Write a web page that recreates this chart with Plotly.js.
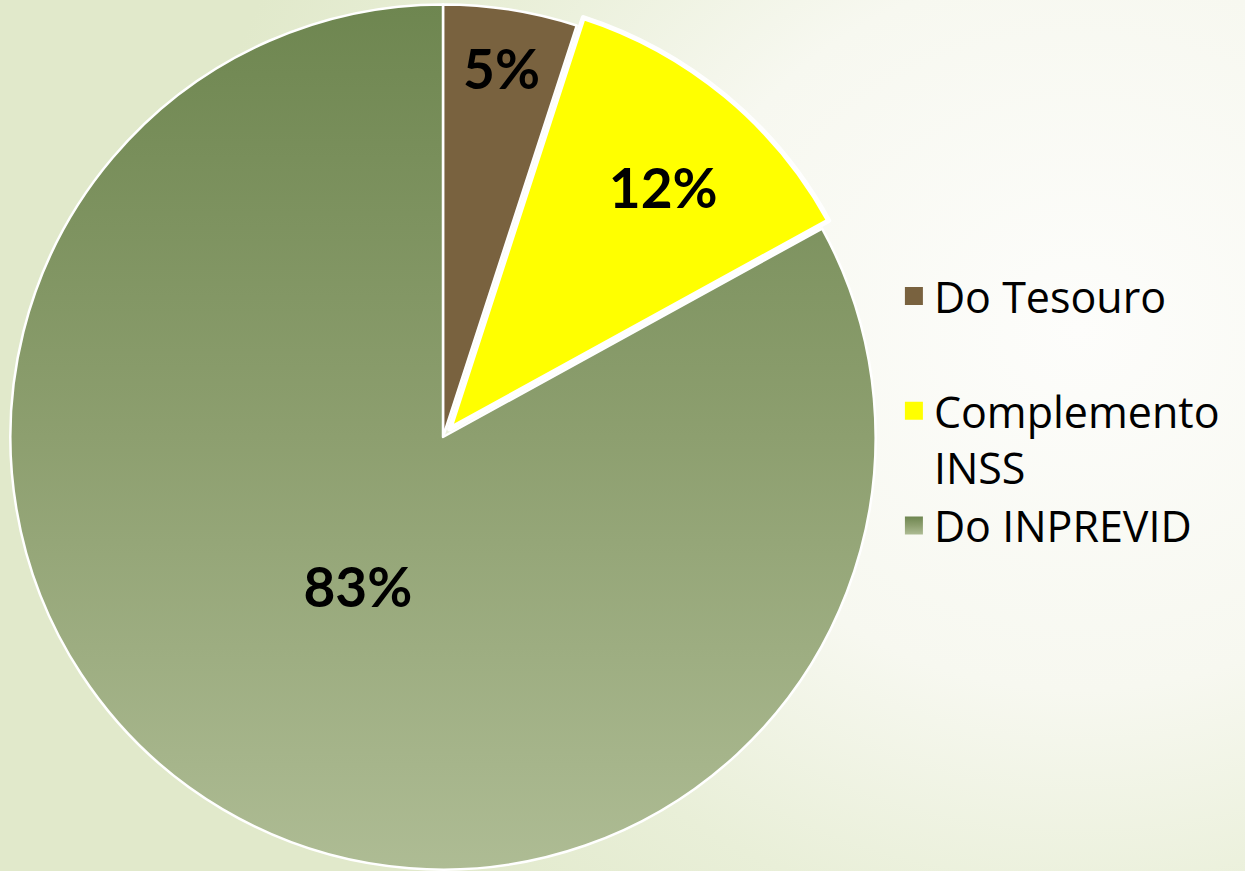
<!DOCTYPE html>
<html>
<head>
<meta charset="utf-8">
<script src="https://cdn.plot.ly/plotly-3.0.1.min.js"></script>
<style>
  html, body { margin: 0; padding: 0; width: 1245px; height: 871px; overflow: hidden; }
  body {
    background: radial-gradient(ellipse 900px 800px at 1080px 330px, #fdfdfb 0%, #f7f8f0 45%, #e9efd8 75%, #e1e9cb 100%);
  }
  #chart { position: absolute; left: 0; top: -6px; width: 1245px; height: 886px; }
</style>
</head>
<body>
<div id="chart"></div>
<script>
const categories = ["Do Tesouro<br> ", "Complemento<br>INSS", "Do INPREVID"];
const values = [5, 12, 83];
const sliceColors = ["#79623f", "#ffff00", "#8a9d6b"];
const pulls = [0, 0.024, 0];
const lineWidths = [2.5, 5, 2.5];

const trace = {
  type: "pie",
  labels: categories,
  values: values,
  sort: false,
  direction: "clockwise",
  rotation: 0,
  pull: pulls,
  marker: { colors: sliceColors, line: { color: "#ffffff", width: lineWidths } },
  texttemplate: "<b>%{percent:.0%}</b>",
  textposition: "inside",
  insidetextorientation: "horizontal",
  textfont: { family: "Lato, 'DejaVu Sans', sans-serif", size: 55, color: "#000000" },
  domain: { x: [0, 886 / 1245], y: [0, 1] },
  hoverinfo: "none"
};

const layout = {
  width: 1245,
  height: 886,
  margin: { l: 0, r: 0, t: 0, b: 0 },
  paper_bgcolor: "rgba(0,0,0,0)",
  plot_bgcolor: "rgba(0,0,0,0)",
  showlegend: true,
  legend: {
    x: 0.718, xanchor: "left",
    y: 0.698, yanchor: "top",
    valign: "top",
    font: { family: "'Open Sans', 'DejaVu Sans', sans-serif", size: 43, color: "#000000" },
    bgcolor: "rgba(0,0,0,0)",
    tracegroupgap: 0
  }
};

Plotly.newPlot("chart", [trace], layout, { displayModeBar: false, staticPlot: true }).then(function (gd) {
  const svgNS = "http://www.w3.org/2000/svg";
  const svg = gd.querySelector("svg.main-svg");
  let defs = svg.querySelector("defs");
  if (!defs) { defs = document.createElementNS(svgNS, "defs"); svg.insertBefore(defs, svg.firstChild); }
  const grad = document.createElementNS(svgNS, "linearGradient");
  grad.setAttribute("id", "greenGrad");
  grad.setAttribute("x1", "0"); grad.setAttribute("y1", "0");
  grad.setAttribute("x2", "0"); grad.setAttribute("y2", "1");
  [["0", "#6e8650"], ["0.5", "#8d9f6f"], ["1", "#aebc94"]].forEach(function (s) {
    const st = document.createElementNS(svgNS, "stop");
    st.setAttribute("offset", s[0]); st.setAttribute("stop-color", s[1]);
    grad.appendChild(st);
  });
  defs.appendChild(grad);
  const slices = gd.querySelectorAll("g.slice");
  if (slices[2]) {
    const surf = slices[2].querySelector("path.surface");
    if (surf) surf.style.fill = "url(#greenGrad)";
    const txt = slices[2].querySelector("text.slicetext");
    if (txt) {
      const t = txt.getAttribute("transform") || "";
      txt.setAttribute("transform", "translate(25,-37) " + t);
    }
  }
  if (slices[1]) {
    const txt1 = slices[1].querySelector("text.slicetext");
    if (txt1) {
      const t1 = txt1.getAttribute("transform") || "";
      txt1.setAttribute("transform", "translate(12,2) " + t1);
    }
  }
  const lp = gd.querySelectorAll(".legend .traces .legendpoints path");
  lp.forEach(function (p, i) {
    p.setAttribute("d", "M9,9H-9V-9H9Z");
    p.style.strokeWidth = "0";
    if (i === 2) p.style.fill = "url(#greenGrad)";
  });
});
</script>
</body>
</html>
